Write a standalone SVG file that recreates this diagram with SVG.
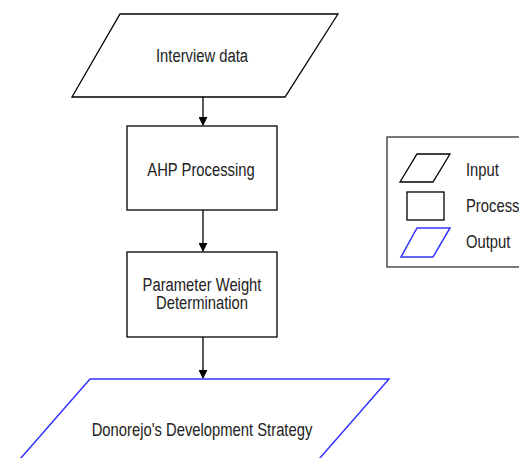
<svg xmlns="http://www.w3.org/2000/svg" width="519" height="458" viewBox="0 0 519 458">
  <style>
    .shape { fill: #ffffff; stroke: #000000; stroke-width: 1.3; }
    .out { fill: #ffffff; stroke: #3333ff; stroke-width: 1.5; }
    .label { font-family: "Liberation Sans", Arial, sans-serif; font-size: 14.8px; fill: #222222; text-anchor: middle; }
    .legend-label { font-family: "Liberation Sans", Arial, sans-serif; font-size: 14.8px; fill: #222222; }
    .edge { stroke: #000000; stroke-width: 1.3; fill: none; }
  </style>
  <defs>
    <marker id="arrow" viewBox="0 0 10 10" refX="9" refY="5" markerWidth="9" markerHeight="9" markerUnits="userSpaceOnUse" orient="auto">
      <path d="M0,0 L10,5 L0,10 z" fill="#000000"/>
    </marker>
  </defs>
  <rect width="519" height="458" fill="#ffffff"/>

  <g id="connectors">
    <line class="edge" x1="203" y1="97" x2="203" y2="125" marker-end="url(#arrow)"/>
    <line class="edge" x1="203" y1="210" x2="203" y2="251" marker-end="url(#arrow)"/>
    <line class="edge" x1="203" y1="337" x2="203" y2="378" marker-end="url(#arrow)"/>
  </g>

  <g id="interview-data">
    <polygon class="shape" points="120,14 338,14 285,97 72,97"/>
    <text class="label" transform="matrix(1,0,0,1.18,202,62)">Interview data</text>
  </g>

  <g id="ahp-processing">
    <rect class="shape" x="127" y="126" width="150" height="84"/>
    <text class="label" transform="matrix(1,0,0,1.18,201,176)">AHP Processing</text>
  </g>

  <g id="parameter-weight">
    <rect class="shape" x="127" y="252" width="150" height="85"/>
    <text class="label" transform="matrix(1,0,0,1.18,202,291)">Parameter Weight</text>
    <text class="label" transform="matrix(1,0,0,1.18,202,309)">Determination</text>
  </g>

  <g id="development-strategy">
    <polygon class="out" points="90,379 389,379 306,474 7,474"/>
    <text class="label" transform="matrix(1,0,0,1.18,202,436)">Donorejo's Development Strategy</text>
  </g>

  <g id="legend">
    <rect x="387" y="137" width="140" height="130" fill="#ffffff" stroke="#333333" stroke-width="1.3"/>
    <polygon class="shape" points="417,154 450,154 433,182 400,182"/>
    <text class="legend-label" transform="matrix(1,0,0,1.18,466,176)">Input</text>
    <rect class="shape" x="407" y="192" width="37" height="28"/>
    <text class="legend-label" transform="matrix(1,0,0,1.18,466,212)">Process</text>
    <polygon class="out" points="417,228 450,228 433,257 401,257"/>
    <text class="legend-label" transform="matrix(1,0,0,1.18,466,248)">Output</text>
  </g>
</svg>
